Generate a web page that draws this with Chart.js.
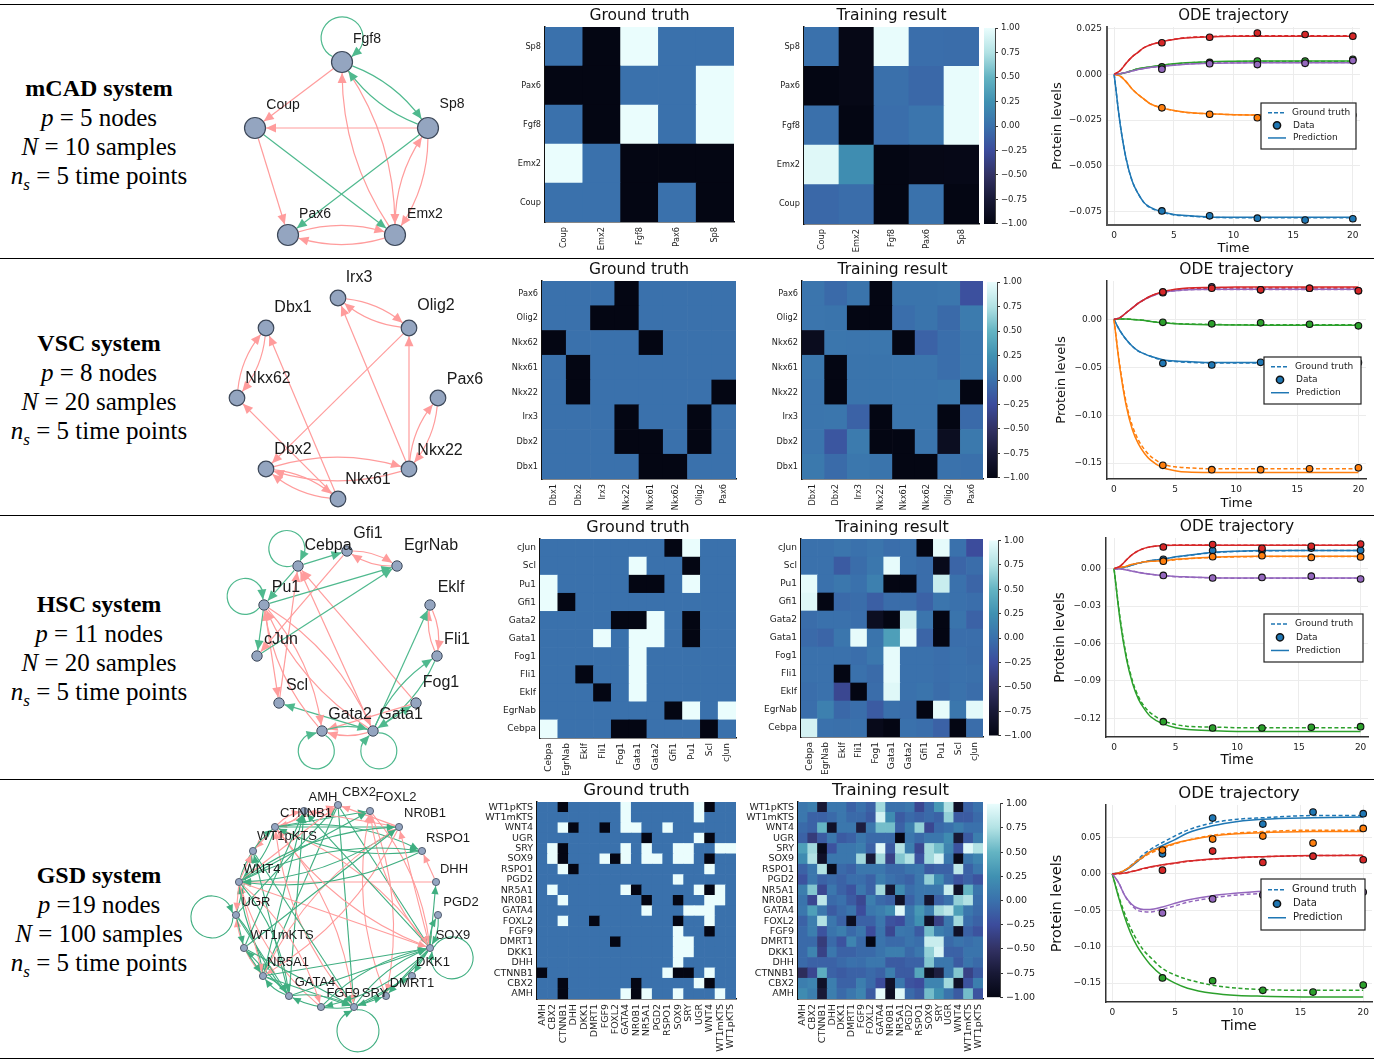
<!DOCTYPE html>
<html>
<head>
<meta charset="utf-8">
<script src="https://cdn.jsdelivr.net/npm/chart.js@4"></script>
<style>
  body { margin: 0; background: #fff; width: 1374px; height: 1063px; overflow: hidden; position: relative; }
  canvas { position: absolute; }
  .rule { position: absolute; left: 0; width: 1374px; height: 1px; background: #000; }
  .desc { position: absolute; left: 0; width: 198px; text-align: center; font: 25px/29px "Liberation Serif", serif; color: #000; white-space: nowrap; }
  .desc b { font-size: 24px; }
  .desc sub { font-size: 17px; line-height: 0; font-style: italic; }
</style>
</head>
<body>
<div class="rule" style="top:4px"></div>
<div class="rule" style="top:258px"></div>
<div class="rule" style="top:515px"></div>
<div class="rule" style="top:779px"></div>
<div class="rule" style="top:1058px"></div>
<div class="desc" style="top:73px"><b>mCAD system</b><br><i>p</i> = 5 nodes<br><i>N</i> = 10 samples<br><i>n<sub>s</sub></i> = 5 time points</div>
<div class="desc" style="top:328px"><b>VSC system</b><br><i>p</i> = 8 nodes<br><i>N</i> = 20 samples<br><i>n<sub>s</sub></i> = 5 time points</div>
<div class="desc" style="top:589px"><b>HSC system</b><br><i>p</i> = 11 nodes<br><i>N</i> = 20 samples<br><i>n<sub>s</sub></i> = 5 time points</div>
<div class="desc" style="top:860px"><b>GSD system</b><br><i>p</i> =19 nodes<br><i>N</i> = 100 samples<br><i>n<sub>s</sub></i> = 5 time points</div>

<script>
// ---------- labels (heatmap columns, the rows are the same list reversed)
var mcadGenes = ["Coup","Emx2","Fgf8","Pax6","Sp8"];
var vscGenes = ["Dbx1","Dbx2","Irx3","Nkx22","Nkx61","Nkx62","Olig2","Pax6"];
var hscGenes = ["Cebpa","EgrNab","Eklf","Fli1","Fog1","Gata1","Gata2","Gfi1","Pu1","Scl","cJun"];
var gsdGenes = ["AMH","CBX2","CTNNB1","DHH","DKK1","DMRT1","FGF9","FOXL2","GATA4","NR0B1","NR5A1","PGD2","RSPO1","SOX9","SRY","UGR","WNT4","WT1mKTS","WT1pKTS"];

// ---------- heatmap values, rows top to bottom
var mcadTruth = [
  [0,-1,1,0,0],
  [-1,-1,0,0,1],
  [0,-1,1,0,1],
  [1,0,-1,-1,-1],
  [0,0,-1,0,-1]];
var mcadResult = [
  [0,-.98,.99,-.02,-.03],
  [-1,-.98,-.01,-.06,.99],
  [-.01,-1,-.02,.03,.99],
  [.95,.22,-1,-.98,-.97],
  [-.06,-.03,-1,.01,-1]];
var vscTruth = [
  [0,0,0,-1,0,0,0,0],
  [0,0,-1,-1,0,0,0,0],
  [-1,0,0,0,-1,0,0,0],
  [0,-1,0,0,0,0,0,0],
  [0,-1,0,0,0,0,0,-1],
  [0,0,0,-1,0,0,-1,0],
  [0,0,0,-1,-1,0,-1,0],
  [0,0,0,0,-1,-1,0,0]];
var vscResult = [
  [.03,-.05,.02,-1,.02,.02,.04,-.22],
  [.03,.02,-1,-1,-.02,.02,-.05,.08],
  [-.92,.04,.03,.04,-1,-.1,-.02,.04],
  [.05,-1,.02,.02,.03,.03,-.02,.04],
  [.03,-1,.02,.02,.03,.03,.05,-1],
  [.03,.04,-.1,-1,.03,.03,-1,-.05],
  [.03,-.18,.08,-1,-1,.03,-.9,.06],
  [.06,-.04,.05,.02,-1,-1,.01,-.01]];
var hscTruth = [
  [0,0,0,0,0,0,0,-1,1,0,0],
  [0,0,0,0,0,1,0,0,-1,0,0],
  [1,0,0,0,0,-1,-1,0,1,0,0],
  [1,-1,0,0,0,0,0,0,0,0,0],
  [0,0,0,0,-1,-1,1,0,-1,0,0],
  [0,0,0,1,0,1,1,0,-1,0,0],
  [0,0,0,0,0,1,0,0,0,0,0],
  [0,0,-1,0,0,1,0,0,0,0,0],
  [0,0,0,-1,0,1,0,0,0,0,0],
  [0,0,0,0,0,0,0,-1,1,0,1],
  [1,0,0,0,-1,-1,0,0,0,-1,0]];
var hscResult = [
  [0,0,.03,0,.03,-.02,0,-1,.98,0,-.25],
  [0,0,-.15,-.03,.05,.98,0,-.03,-.95,-.08,-.03],
  [.98,0,.05,0,.12,-1,-1,-.03,.85,0,-.08],
  [.95,-1,-.05,-.03,-.12,-.03,-.03,-.1,.03,0,-.02],
  [-.03,0,0,-.02,-.9,-1,.88,.03,-1,.02,-.1],
  [-.05,-.08,.04,.98,.02,.35,.98,-.08,-1,-.02,-.02],
  [0,0,0,-.02,.05,.98,0,0,-.02,0,-.03],
  [0,0,-1,0,-.04,.98,0,0,-.02,0,-.01],
  [-.02,0,-.3,-1,-.03,.95,0,.02,-.03,.01,-.03],
  [-.02,.12,-.06,-.02,-.15,-.01,-.02,-1,.98,.05,.97],
  [.9,0,-.01,0,-.95,-1,0,-.02,-.1,-1,-.03]];
var gsdTruth = [
  [0,0,-1,0,0,0,0,0,1,0,0,0,0,0,0,1,-1,0,0],
  [0,0,0,0,0,0,0,0,1,0,0,0,0,0,0,1,0,0,0],
  [0,0,1,-1,0,0,-1,0,1,1,0,0,1,0,0,0,0,0,0],
  [0,0,0,0,0,0,0,0,0,0,-1,0,0,0,0,1,-1,0,0],
  [0,1,-1,0,0,0,0,0,1,0,1,0,0,1,1,0,0,1,1],
  [0,1,-1,0,0,0,1,-1,1,0,1,1,0,1,1,0,-1,0,0],
  [0,0,1,-1,0,0,0,0,0,0,0,0,0,0,0,0,1,0,0],
  [0,0,0,0,0,0,0,0,0,0,0,0,0,1,0,0,0,0,0],
  [0,1,0,0,0,0,0,0,1,-1,0,0,0,0,0,1,-1,1,0],
  [0,0,1,0,0,0,0,0,0,0,-1,0,0,-1,0,0,1,1,0],
  [0,0,0,0,0,0,0,0,0,0,1,0,0,0,1,1,1,0,0],
  [0,0,1,0,0,-1,0,0,0,0,0,0,0,-1,0,0,1,0,0],
  [0,0,0,0,0,0,0,0,0,0,0,0,0,1,0,0,-1,0,0],
  [0,0,0,0,0,0,0,-1,0,0,0,0,0,1,1,0,0,0,0],
  [0,0,0,0,0,0,0,0,0,0,0,0,0,1,1,0,0,0,0],
  [0,0,0,0,0,0,0,0,0,0,0,0,0,1,0,0,0,0,0],
  [-1,0,0,0,0,0,0,0,0,0,0,0,1,-1,-1,0,1,0,0],
  [0,0,-1,0,0,0,0,0,0,-1,0,0,0,0,0,1,-1,0,0],
  [0,0,-1,0,0,0,0,0,1,-1,1,0,0,1,0,0,0,1,0]];
var gsdResult = [
  [.05,.1,-.75,.05,.05,-.1,0,-.1,.7,0,0,.05,-.3,-.05,.3,.75,-.85,-.1,0],
  [.05,-.1,-.1,-.05,.05,-.05,-.05,-.15,.9,.2,-.15,-.05,-.1,-.05,-.1,.65,-.15,-.15,-.05],
  [-.05,-.1,.5,-.85,.05,.05,-.7,.05,.55,.55,-.1,.1,.65,-.3,-.05,0,.1,0,0],
  [-.1,-.4,-.15,.05,-.15,-.1,.05,-.05,-.05,-.05,-1,.05,-.05,.05,.05,.2,-.75,-.15,.1],
  [.35,.7,-.95,-.2,.05,.05,.1,-.1,.95,-.15,.75,.1,-.3,.7,.55,.15,-.2,.95,.75],
  [.2,.75,-.85,.05,.05,.05,.7,-.75,.7,-.35,.6,.75,-.2,.7,.9,.05,-.95,.05,.15],
  [-.1,.05,.75,-.95,-.05,-.1,.05,.05,.05,-.05,-.05,.02,.05,-.15,-.1,-.1,.8,-.1,.05],
  [-.2,.05,-.1,-.05,-.1,-.02,-.02,-.1,.1,0,-.05,-.1,.05,.65,.2,-.05,-.2,-.1,-.2],
  [.1,.6,-.3,.05,-.1,-.2,.05,-.1,.7,-.8,.2,-.02,.05,.05,.05,.85,-.85,.5,.02],
  [.02,-.3,.8,-.05,0,-.15,-.3,.1,-.05,-.1,-.85,-.1,.05,-.8,-.1,0,.65,.75,-.02],
  [.05,.35,.05,-.15,-.05,.02,-.25,.05,.1,.2,.95,.05,.3,.1,.7,.8,.35,.05,-.05],
  [-.1,.1,.75,.05,-.1,-.9,-.1,-.1,.05,-.2,-.25,.02,.25,-.85,-.35,.05,.7,-.02,-.1],
  [-.05,.1,-.2,.02,.1,-.05,.05,-.25,.02,-.3,.05,.02,-.15,.55,.1,.02,-.85,-.1,-.2],
  [-.05,-.05,-.4,-.05,-.2,.15,-.05,-1,.02,-.05,-.05,.02,-.02,.85,.85,-.05,.02,-.02,.02],
  [-.05,.15,-.35,.05,-.1,-.1,-.05,-.05,.02,.1,.1,-.05,.05,.65,.92,-.1,-.1,.02,.02],
  [-.05,-.1,-.1,-.1,-.05,0,-.02,.05,.05,-.15,-.15,-.1,-.1,.6,.05,.05,-.15,.02,-.05],
  [-.55,-.3,.45,-.1,-.15,-.1,-.1,-.05,-.1,.1,-.15,-.15,.4,-.9,-.7,.05,.6,-.35,-.15],
  [.1,.15,-.85,.1,-.1,-.1,.1,-.05,-.25,-.85,.05,-.2,-.25,.15,.15,.7,-.85,-.2,.1],
  [.2,.1,-.75,.1,-.05,.05,.15,-.15,.98,-.9,.95,-.05,-.15,.55,.25,.02,-.15,.55,-.2]];

// ---------- network layouts, same order as the gene lists
var mcadNodeX = [255,395,342,288,428];
var mcadNodeY = [128,235,62,235,128];
var mcadTextX = [283,425,367,315,452];
var mcadTextY = [105,214,39,214,104];
var vscNodeX = [266,266,338,409,338,237,409,438];
var vscNodeY = [328,469,298,469,499,398,328,398];
var vscTextX = [293,293,359,440,368,268,436,465];
var vscTextY = [308,450,278,451,480,379,306,380];
var hscNodeX = [298,397,430,437,416,373,322,347,264,279,257];
var hscNodeY = [566,566,605,656,703,731,731,551,605,703,656];
var hscTextX = [328,431,451,457,441,401,350,368,286,297,281];
var hscTextY = [546,546,588,640,683,715,715,534,588,686,640];
var gsdNodeX = [304,338,275,436,412,386,321,370,289,399,263,438,422,430,354,236,239,244,253];
var gsdNodeY = [811,805,827,882,976,996,1007,811,996,827,976,915,851,948,1007,915,882,948,851];
var gsdTextX = [323,359,306,454,433,412,343,396,315,425,288,461,448,453,375,256,262,282,287];
var gsdTextY = [797,792,813,869,962,983,993,797,982,813,962,902,838,935,993,902,869,935,836];

// ---------- ODE trajectories: blue, orange, green, purple, red
var odeTime = [0,.5,1,1.5,2,2.5,3,4,5,6,8,10,12,16,20];
var sampleTime = [4,8,12,16,20];

var mcadPred = [
  [0,-.027,-.046,-.058,-.065,-.07,-.0725,-.075,-.0765,-.077,-.0778,-.078,-.078,-.078,-.078],
  [0,-.001,-.004,-.008,-.011,-.0135,-.016,-.0183,-.0197,-.0207,-.0215,-.022,-.0222,-.0222,-.0222],
  [0,.0003,.001,.002,.003,.0036,.004,.005,.0058,.0063,.0069,.0071,.0072,.0072,.0072],
  [0,.0003,.001,.0018,.0026,.0032,.0037,.0043,.005,.0055,.006,.0062,.0063,.0063,.0063],
  [0,.002,.006,.0095,.012,.0145,.016,.0178,.019,.0198,.0204,.0207,.0208,.0208,.0208]];
var mcadGround = [
  [0,-.027,-.046,-.058,-.065,-.07,-.0727,-.0752,-.0767,-.0772,-.078,-.0782,-.0782,-.0782,-.0782],
  [0,-.001,-.004,-.008,-.011,-.0135,-.016,-.0184,-.0198,-.0208,-.0216,-.022,-.0222,-.0222,-.0222],
  [0,.0003,.001,.002,.003,.0035,.004,.0048,.0056,.0061,.0067,.0069,.007,.007,.007],
  [0,.0003,.001,.0018,.0026,.0032,.0037,.0044,.0051,.0056,.0061,.0063,.0064,.0064,.0064],
  [0,.002,.006,.0095,.012,.0145,.016,.0178,.0191,.02,.0206,.0209,.021,.021,.021]];
var mcadData = [
  [-.0745,-.0772,-.0785,-.0795,-.0788],
  [-.0183,-.0218,-.0237,-.0228,-.0222],
  [.004,.0065,.0072,.0072,.0082],
  [.0028,.0058,.0053,.006,.0075],
  [.0172,.0202,.0225,.0217,.0208]];

var vscPred = [
  [0,-.012,-.021,-.028,-.033,-.036,-.0385,-.042,-.0435,-.044,-.045,-.045,-.045,-.045,-.045],
  [0,-.052,-.09,-.115,-.13,-.14,-.147,-.155,-.158,-.1595,-.16,-.16,-.16,-.16,-.16],
  [0,.0005,.0005,0,-.0005,-.001,-.002,-.0035,-.0045,-.005,-.0055,-.0058,-.006,-.006,-.006],
  [0,.002,.007,.012,.017,.021,.024,.0285,.03,.031,.0315,.0315,.0315,.0315,.0315],
  [0,.002,.007,.012,.017,.021,.0245,.029,.0315,.033,.0335,.034,.034,.034,.034]];
var vscGround = [
  [0,-.012,-.021,-.028,-.033,-.036,-.0385,-.0425,-.044,-.0447,-.0455,-.0455,-.0455,-.0455,-.0455],
  [0,-.05,-.087,-.111,-.126,-.136,-.143,-.151,-.154,-.155,-.156,-.156,-.156,-.156,-.156],
  [0,.0005,.0005,0,-.0005,-.001,-.002,-.0033,-.0042,-.0047,-.0052,-.0055,-.0055,-.0055,-.0055],
  [0,.002,.007,.012,.017,.021,.024,.0283,.03,.031,.0313,.0313,.0313,.0313,.0313],
  [0,.002,.007,.012,.017,.021,.0245,.0285,.031,.032,.0328,.033,.033,.033,.033]];
var vscData = [
  [-.0458,-.0476,-.0448,-.046,-.045],
  [-.1524,-.157,-.157,-.156,-.155],
  [-.003,-.0045,-.0035,-.005,-.0066],
  [.028,.034,.031,.0326,.03],
  [.0288,.0326,.031,.0326,.03]];

var hscPred = [
  [0,.0005,.0015,.003,.0045,.0055,.0065,.0078,.0095,.0108,.013,.014,.0145,.0145,.0145],
  [0,.001,.002,.0035,.0045,.0055,.006,.0065,.0075,.0082,.0092,.0098,.01,.01,.01],
  [0,-.042,-.072,-.092,-.105,-.113,-.119,-.1245,-.1275,-.129,-.13,-.1305,-.1305,-.1305,-.1305],
  [0,-.0003,-.001,-.002,-.003,-.0038,-.0045,-.0055,-.0062,-.0066,-.0072,-.0075,-.0075,-.0075,-.0075],
  [0,.002,.007,.0115,.0145,.0165,.0175,.0185,.0188,.0188,.0188,.0187,.0187,.0187,.0187]];
var hscGround = [
  [0,.0005,.0015,.003,.0045,.0055,.0065,.0076,.0093,.0106,.0128,.0138,.0143,.0145,.0145],
  [0,.001,.002,.0035,.0045,.0055,.006,.0062,.0072,.008,.009,.0095,.0097,.0097,.0097],
  [0,-.04,-.07,-.09,-.103,-.111,-.116,-.122,-.125,-.1265,-.127,-.1275,-.1275,-.1275,-.1275],
  [0,-.0003,-.001,-.002,-.003,-.0038,-.0045,-.0057,-.0064,-.0068,-.0074,-.0076,-.0076,-.0076,-.0076],
  [0,.002,.007,.0115,.0145,.0165,.0175,.0186,.0189,.0189,.0189,.0188,.0188,.0188,.0188]];
var hscData = [
  [.0075,.0145,.0145,.0165,.0147],
  [.006,.0096,.0104,.009,.0094],
  [-.1227,-.1278,-.1278,-.1272,-.1267],
  [-.0054,-.0075,-.007,-.006,-.0083],
  [.0174,.0193,.0163,.018,.0198]];

var gsdPred = [
  [0,.001,.0045,.01,.017,.024,.03,.039,.047,.056,.066,.072,.075,.077,.078],
  [0,.001,.005,.011,.018,.024,.03,.0365,.042,.046,.052,.055,.0565,.058,.058],
  [0,-.032,-.06,-.083,-.1,-.113,-.124,-.14,-.15,-.157,-.164,-.167,-.168,-.169,-.169],
  [0,-.012,-.03,-.041,-.047,-.049,-.049,-.0455,-.0405,-.036,-.03,-.0265,-.024,-.022,-.022],
  [0,.0003,.001,.003,.005,.0075,.0095,.0125,.015,.0175,.0205,.0225,.0235,.025,.025]];
var gsdGround = [
  [0,.0012,.005,.0115,.019,.027,.033,.043,.052,.06,.07,.075,.077,.08,.08],
  [0,.001,.005,.0105,.017,.023,.028,.035,.041,.046,.053,.056,.058,.06,.06],
  [0,-.03,-.055,-.076,-.092,-.105,-.114,-.13,-.139,-.145,-.153,-.157,-.159,-.16,-.16],
  [0,-.012,-.03,-.042,-.05,-.052,-.0525,-.0485,-.044,-.039,-.033,-.029,-.027,-.025,-.025],
  [0,.0002,.001,.003,.005,.007,.009,.012,.0145,.017,.02,.022,.0235,.025,.0255]];
var gsdData = [
  [.0275,.0766,.0683,.0849,.0826],
  [.0326,.0477,.0518,.0422,.0624],
  [-.143,-.1468,-.16,-.1624,-.1528],
  [-.0537,-.0344,-.029,-.03,-.025],
  [.005,.0312,.0156,.0243,.0193]];

var colorbarRange = [-1,1];

// ---------- helpers
var sans = "'DejaVu Sans', sans-serif";
var lineColors = ["#1f77b4","#ff7f0e","#2ca02c","#9467bd","#d62728"];
var iceStops = [[-1,4,6,19],[-.75,24,25,54],[-.5,50,50,100],[-.25,60,76,156],[0,58,113,172],[.25,64,145,178],[.5,100,180,195],[.75,178,226,228],[1,234,253,253]];

Chart.defaults.animation = false;
Chart.defaults.responsive = false;
Chart.defaults.devicePixelRatio = 1;
Chart.defaults.font.family = sans;
Chart.defaults.layout.autoPadding = false;
Chart.defaults.plugins.legend.display = false;
Chart.defaults.plugins.tooltip.enabled = false;

function iceColor(v) {
  for (var i = 1; i < iceStops.length; i++) {
    var a = iceStops[i-1], b = iceStops[i];
    if (v <= b[0]) {
      var t = (v - a[0]) / (b[0] - a[0]);
      return "rgb(" + Math.round(a[1]+t*(b[1]-a[1])) + "," + Math.round(a[2]+t*(b[2]-a[2])) + "," + Math.round(a[3]+t*(b[3]-a[3])) + ")";
    }
  }
  return "rgb(234,253,253)";
}

function addCanvas(left, top, width, height) {
  var c = document.createElement("canvas");
  c.width = width;
  c.height = height;
  c.style.left = left + "px";
  c.style.top = top + "px";
  c.style.width = width + "px";
  c.style.height = height + "px";
  document.body.appendChild(c);
  return c;
}

// title centred over the plot, 11px above its top edge
function titleOpts(text, size, headroom) {
  var h = size * 1.2;
  var below = 11 - h / 2;
  return { display: true, text: text, color: "#111", fullSize: false,
           font: { size: size, weight: "normal", family: sans, lineHeight: 1.2 },
           padding: { top: headroom - h - below, bottom: below } };
}

function minus(s) { return s.replace("-", "\u2212"); }

// heatmap as stacked bars: one dataset per row, every cell one unit tall
function heatmap(title, genes, matrix, box, fs, tickFs) {
  var rows = genes.slice().reverse();
  var L = 60, R = 12, T = 24;
  var B = box.base - box.b;
  var datasets = [];
  for (var r = matrix.length - 1; r >= 0; r--) {
    datasets.push({
      label: rows[r],
      data: matrix[r].map(function () { return 1; }),
      backgroundColor: matrix[r].map(iceColor),
      yAxisID: "cells",
      barPercentage: 1,
      categoryPercentage: 1
    });
  }
  var c = addCanvas(box.l - L, box.t - T, box.r - box.l + L + R, box.b - box.t + T + B);
  new Chart(c, {
    type: "bar",
    data: { labels: genes, datasets: datasets },
    options: {
      layout: { padding: { right: R } },
      plugins: { title: titleOpts(title, fs, T) },
      scales: {
        x: { stacked: true, grid: { display: false, drawTicks: false }, border: { color: "#111", width: 1.5 },
             ticks: { autoSkip: false, minRotation: 90, maxRotation: 90, color: "#222", font: { size: tickFs }, padding: 5 },
             afterFit: function (s) { s.height = B; } },
        y: { type: "category", labels: rows, offset: true, position: "left", grid: { display: false, drawTicks: false }, border: { color: "#111", width: 1.5 },
             ticks: { autoSkip: false, color: "#222", font: { size: tickFs }, padding: 4 },
             afterFit: function (s) { s.width = L; } },
        cells: { display: false, stacked: true, min: 0, max: matrix.length }
      }
    }
  });
}

function colorbar(box, tickFs) {
  var pad = 7, R = 44;
  var c = addCanvas(box.l, box.t - pad, box.r - box.l + R, box.b - box.t + pad * 2);
  new Chart(c, {
    type: "bar",
    data: { labels: [""], datasets: [{
      data: [colorbarRange],
      barPercentage: 1, categoryPercentage: 1,
      backgroundColor: function (ctx) {
        var area = ctx.chart.chartArea;
        if (!area) return "#3a71ac";
        var g = ctx.chart.ctx.createLinearGradient(0, area.bottom, 0, area.top);
        iceStops.forEach(function (s) { g.addColorStop((s[0] + 1) / 2, iceColor(s[0])); });
        return g;
      }
    }] },
    options: {
      layout: { padding: { top: pad, bottom: pad } },
      scales: {
        x: { display: false },
        y: { position: "right", min: -1, max: 1, border: { color: "#444" },
             grid: { drawOnChartArea: false, tickLength: 3, color: "#333" },
             ticks: { stepSize: .25, color: "#222", font: { size: tickFs }, padding: 3,
                      callback: function (v) { return minus(v.toFixed(2)); } },
             afterFit: function (s) { s.width = R; } }
      }
    }
  });
}

// network: nodes are a scatter dataset, edges come from the truth matrix (column -> row, sign = colour)
function network(genes, matrix, nodeX, nodeY, textX, textY, panel, style) {
  var n = genes.length;
  var xMean = nodeX.reduce(function (a, b) { return a + b; }, 0) / n;
  var yMean = nodeY.reduce(function (a, b) { return a + b; }, 0) / n;
  var edgeAt = function (from, to) { return matrix[n - 1 - to][from]; };

  function arrow(ctx, tx, ty, ang, color) {
    var len = style.arrow, w = style.arrow * .45;
    ctx.fillStyle = color;
    ctx.beginPath();
    ctx.moveTo(tx, ty);
    ctx.lineTo(tx - len * Math.cos(ang) - w * Math.sin(ang), ty - len * Math.sin(ang) + w * Math.cos(ang));
    ctx.lineTo(tx - len * Math.cos(ang) + w * Math.sin(ang), ty - len * Math.sin(ang) - w * Math.cos(ang));
    ctx.closePath();
    ctx.fill();
  }

  var edges = {
    id: "edges",
    beforeDatasetsDraw: function (chart) {
      var ctx = chart.ctx, sx = chart.scales.x, sy = chart.scales.y;
      var r = style.radius + .5;
      ctx.save();
      ctx.lineWidth = style.lineWidth;
      for (var from = 0; from < n; from++) {
        for (var to = 0; to < n; to++) {
          var v = edgeAt(from, to);
          if (!v) continue;
          var color = v > 0 ? style.green : "#ff9c9c";
          ctx.strokeStyle = color;
          var ax = sx.getPixelForValue(nodeX[from]), ay = sy.getPixelForValue(nodeY[from]);
          var bx = sx.getPixelForValue(nodeX[to]), by = sy.getPixelForValue(nodeY[to]);
          if (from === to) {
            // self loop: circle pushed away from the middle of the network
            var ox = ax - sx.getPixelForValue(xMean), oy = ay - sy.getPixelForValue(yMean);
            var ol = Math.hypot(ox, oy) || 1;
            var R = style.loop, d = R * 1.15;
            var cx = ax + ox / ol * d, cy = ay + oy / ol * d;
            var base = Math.atan2(ay - cy, ax - cx);
            var delta = Math.acos((d * d + R * R - r * r) / (2 * d * R));
            var end = base + 2 * Math.PI - delta;
            ctx.beginPath();
            ctx.arc(cx, cy, R, base + delta, end);
            ctx.stroke();
            arrow(ctx, cx + R * Math.cos(end), cy + R * Math.sin(end), end + Math.PI / 2 - style.arrow / (2 * R), color);
            continue;
          }
          var dx = bx - ax, dy = by - ay;
          if (edgeAt(to, from)) {
            // both directions exist: bow each one to its own side
            var mx = (ax + bx) / 2 + dy * .15, my = (ay + by) / 2 - dx * .15;
            var a0 = Math.atan2(my - ay, mx - ax), a1 = Math.atan2(by - my, bx - mx);
            var sx0 = ax + r * Math.cos(a0), sy0 = ay + r * Math.sin(a0);
            var ex0 = bx - r * Math.cos(a1), ey0 = by - r * Math.sin(a1);
            ctx.beginPath();
            ctx.moveTo(sx0, sy0);
            ctx.quadraticCurveTo(mx, my, ex0, ey0);
            ctx.stroke();
            arrow(ctx, ex0, ey0, a1, color);
          } else {
            var a = Math.atan2(dy, dx);
            var ex = bx - r * Math.cos(a), ey = by - r * Math.sin(a);
            ctx.beginPath();
            ctx.moveTo(ax + r * Math.cos(a), ay + r * Math.sin(a));
            ctx.lineTo(ex, ey);
            ctx.stroke();
            arrow(ctx, ex, ey, a, color);
          }
        }
      }
      ctx.restore();
    },
    afterDatasetsDraw: function (chart) {
      var ctx = chart.ctx;
      ctx.save();
      ctx.font = style.font + "px 'Liberation Sans', sans-serif";
      ctx.fillStyle = "#1a1a1a";
      ctx.textAlign = "center";
      ctx.textBaseline = "middle";
      genes.forEach(function (g, i) {
        ctx.fillText(g, chart.scales.x.getPixelForValue(textX[i]), chart.scales.y.getPixelForValue(textY[i]));
      });
      ctx.restore();
    }
  };

  var c = addCanvas(panel.l, panel.t, panel.r - panel.l, panel.b - panel.t);
  new Chart(c, {
    type: "scatter",
    data: { datasets: [{
      data: nodeX.map(function (x, i) { return { x: x, y: nodeY[i] }; }),
      pointRadius: style.radius,
      backgroundColor: "#94a5c0",
      borderColor: "#3d4859",
      borderWidth: style.border
    }] },
    options: {
      scales: {
        x: { display: false, min: panel.l, max: panel.r },
        y: { display: false, min: panel.t, max: panel.b, reverse: true }
      }
    },
    plugins: [edges]
  });
}

// trajectories: data dots on top, then prediction, then dashed ground truth
function trajectory(pred, ground, samples, o) {
  var left = Math.round(o.proteinX - 8), bottom = Math.round(o.timeY + 9), T = 24, R = 4;
  var L = o.box.l - left, B = bottom - o.box.b;
  var datasets = [];
  for (var s = 4; s >= 0; s--) {
    datasets.push({ data: sampleTime.map(function (t, i) { return { x: t, y: samples[s][i] }; }),
      pointRadius: 3.3, backgroundColor: lineColors[s], borderColor: "#111", borderWidth: 1.1 });
  }
  [pred, ground].forEach(function (set, k) {
    for (var s = 4; s >= 0; s--) {
      datasets.push({ data: odeTime.map(function (t, i) { return { x: t, y: set[s][i] }; }),
        showLine: true, pointRadius: 0, borderColor: lineColors[s], borderWidth: 1.5,
        borderDash: k ? [4, 2.5] : [], cubicInterpolationMode: "monotone" });
    }
  });
  var legendBox = {
    id: "legendBox",
    afterDatasetsDraw: function (chart) {
      var ctx = chart.ctx, lb = o.legend;
      var x0 = lb[0] - left, y0 = lb[1] - (o.box.t - T), w = lb[2] - lb[0], h = lb[3] - lb[1];
      var rows = [h * .21, h * .485, h * .76];
      ctx.save();
      ctx.fillStyle = "#fff";
      ctx.strokeStyle = "#222";
      ctx.lineWidth = 1.2;
      ctx.fillRect(x0, y0, w, h);
      ctx.strokeRect(x0, y0, w, h);
      ctx.strokeStyle = lineColors[0];
      ctx.lineWidth = 1.5;
      ctx.setLineDash([4, 2]);
      ctx.beginPath(); ctx.moveTo(x0 + 7, y0 + rows[0]); ctx.lineTo(x0 + 25, y0 + rows[0]); ctx.stroke();
      ctx.setLineDash([]);
      ctx.beginPath(); ctx.moveTo(x0 + 7, y0 + rows[2]); ctx.lineTo(x0 + 25, y0 + rows[2]); ctx.stroke();
      ctx.fillStyle = lineColors[0];
      ctx.strokeStyle = "#111";
      ctx.beginPath(); ctx.arc(x0 + 16, y0 + rows[1], 3.6, 0, Math.PI * 2); ctx.fill(); ctx.stroke();
      ctx.fillStyle = "#222";
      ctx.font = o.legendFont + "px " + sans;
      ctx.textBaseline = "middle";
      ctx.fillText("Ground truth", x0 + 31, y0 + rows[0]);
      ctx.fillText("Data", x0 + 32, y0 + rows[1]);
      ctx.fillText("Prediction", x0 + 32, y0 + rows[2]);
      ctx.restore();
    }
  };
  var c = addCanvas(left, o.box.t - T, o.box.r - left + R, bottom - o.box.t + T);
  new Chart(c, {
    type: "scatter",
    data: { datasets: datasets },
    options: {
      layout: { padding: { right: R } },
      plugins: { title: titleOpts("ODE trajectory", o.titleFont, T) },
      scales: {
        x: { min: o.x[0], max: o.x[1], grid: { color: "#ececec", drawTicks: false }, border: { color: o.spineColor, width: o.spine },
             ticks: { stepSize: 5, includeBounds: false, color: "#222", font: { size: 9 }, padding: 5, maxRotation: 0 },
             title: { display: true, text: "Time", color: "#111", padding: 0, font: { size: o.axisFont } },
             afterFit: function (s) { s.height = B; } },
        y: { min: o.y[0], max: o.y[1], grid: { color: "#ececec", drawTicks: false }, border: { color: o.spineColor, width: o.spine },
             ticks: { stepSize: o.step, includeBounds: false, color: "#222", font: { size: 9 }, padding: 5,
                      callback: function (v) { return minus(v.toFixed(o.dec)); } },
             title: { display: true, text: "Protein levels", color: "#111", padding: 0, font: { size: o.axisFont } },
             afterFit: function (s) { s.width = L; } }
      }
    },
    plugins: [legendBox]
  });
}

// ---------- panels
network(mcadGenes, mcadTruth, mcadNodeX, mcadNodeY, mcadTextX, mcadTextY, {l:180,r:500,t:5,b:258}, {radius:10.5, border:1.2, lineWidth:1.2, arrow:10, loop:21, font:14, green:"#4fb98e"});
network(vscGenes, vscTruth, vscNodeX, vscNodeY, vscTextX, vscTextY, {l:180,r:500,t:259,b:515}, {radius:7.8, border:1.2, lineWidth:1.2, arrow:10, loop:20, font:16, green:"#4fb98e"});
network(hscGenes, hscTruth, hscNodeX, hscNodeY, hscTextX, hscTextY, {l:180,r:500,t:516,b:779}, {radius:5.2, border:1, lineWidth:1.2, arrow:10, loop:18, font:16, green:"#4fb98e"});
network(gsdGenes, gsdTruth, gsdNodeX, gsdNodeY, gsdTextX, gsdTextY, {l:180,r:500,t:780,b:1058}, {radius:3.6, border:.8, lineWidth:1.1, arrow:8, loop:21, font:13, green:"#3fae80"});

heatmap("Ground truth", mcadGenes, mcadTruth, {l:545,r:734,t:27,b:222,base:256}, 15.5, 8.2);
heatmap("Training result", mcadGenes, mcadResult, {l:804,r:979,t:27,b:224,base:256}, 15.5, 8.2);
colorbar({l:984,r:995,t:27,b:225}, 8.5);
heatmap("Ground truth", vscGenes, vscTruth, {l:542,r:736,t:281,b:479,base:513}, 15.5, 8.2);
heatmap("Training result", vscGenes, vscResult, {l:802,r:983,t:281,b:479,base:513}, 15.5, 8.2);
colorbar({l:987,r:997,t:281,b:479}, 8.5);
heatmap("Ground truth", hscGenes, hscTruth, {l:540,r:736,t:539,b:738,base:777}, 16, 9);
heatmap("Training result", hscGenes, hscResult, {l:801,r:983,t:539,b:737,base:777}, 16, 9);
colorbar({l:989,r:998,t:539,b:737}, 9);
heatmap("Ground truth", gsdGenes, gsdTruth, {l:537,r:736,t:802,b:999,base:1057}, 16.5, 9.5);
heatmap("Training result", gsdGenes, gsdResult, {l:798,r:983,t:802,b:999,base:1057}, 16.5, 9.5);
colorbar({l:987,r:1000,t:802,b:999}, 9.5);

trajectory(mcadPred, mcadGround, mcadData, {box:{l:1107,r:1360,t:27,b:225}, x:[-.6,20.6], y:[-.0822,.0258], step:.025, dec:3, proteinX:1058, timeY:247, legend:[1261,103,1356,149], legendFont:9, titleFont:15, axisFont:13, spine:2, spineColor:"#555"});
trajectory(vscPred, vscGround, vscData, {box:{l:1107,r:1366,t:281,b:479}, x:[-.57,20.62], y:[-.1667,.0402], step:.05, dec:2, proteinX:1062, timeY:502, legend:[1264,357,1361,404], legendFont:9, titleFont:15.5, axisFont:13, spine:1.5, spineColor:"#333"});
trajectory(hscPred, hscGround, hscData, {box:{l:1106,r:1368,t:538,b:737}, x:[-.65,20.6], y:[-.135,.0246], step:.03, dec:2, proteinX:1060, timeY:760, legend:[1264,614,1363,662], legendFont:9, titleFont:15.5, axisFont:13.5, spine:1.5, spineColor:"#333"});
trajectory(gsdPred, gsdGround, gsdData, {box:{l:1106,r:1372,t:805,b:1002}, x:[-.5,20.7], y:[-.176,.0945], step:.05, dec:2, proteinX:1057, timeY:1026, legend:[1261,879,1365,930], legendFont:10, titleFont:16.5, axisFont:14.5, spine:1.5, spineColor:"#333"});
</script>
</body>
</html>
